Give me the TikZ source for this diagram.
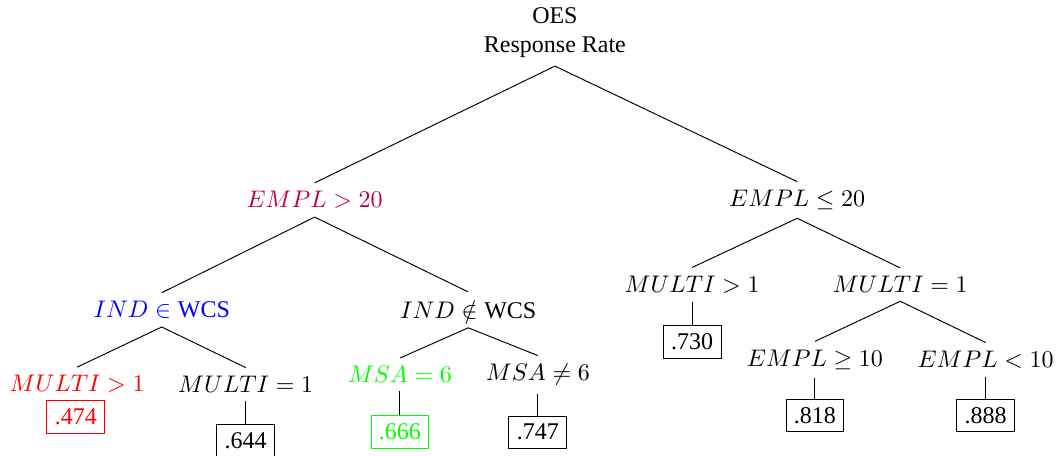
\documentclass[tikz,border=0pt]{standalone}
\usepackage[no-math]{fontspec}
\setmainfont{Liberation Serif}
\usepackage{amsmath,amssymb}
\usepackage{tikz}
\usepackage{xcolor}
\usetikzlibrary{positioning}

\begin{document}
\begin{tikzpicture}[
    leaf/.style={draw, rectangle},
    split/.style={inner sep=3.33pt},
    branch/.style={draw, line width=0.4pt}
]
    \useasboundingbox (0,0) rectangle (15.53,6.68);

    % Root
    \node[align=center] (root) at (8.13,6.20) {OES\\Response Rate};

    % Left subtree
    \node[split, purple] (bigA) at (4.61,3.75) {$EMPL > 20$};
    \node[split, blue] (indin) at (2.37,2.14) {$IND \in \mbox{WCS}$};
    \node[split] (indout) at (6.86,2.14) {$IND \notin \mbox{WCS}$};

    \node[split, red] (multiA) at (1.13,1.05) {$MULTI > 1$};
    \node[split] (singleA) at (3.60,1.05) {$MULTI = 1$};
    \node[leaf, red] (rA) at (1.11,0.57) {.474};
    \node[leaf] (rB) at (3.60,0.23) {.644};

    \node[split, green] (msain) at (5.86,1.19) {$MSA = 6$};
    \node[split] (msaout) at (7.88,1.19) {$MSA \neq 6$};
    \node[leaf, green] (rC) at (5.86,0.35) {.666};
    \node[leaf] (rD) at (7.88,0.35) {.747};

    % Right subtree
    \node[split] (smallA) at (11.68,3.75) {$EMPL \leq 20$};
    \node[split] (multiB) at (10.14,2.51) {$MULTI > 1$};
    \node[split] (singleB) at (13.19,2.51) {$MULTI = 1$};
    \node[leaf] (rE) at (10.14,1.67) {.730};

    \node[split] (midA) at (11.94,1.41) {$EMPL \geq 10$};
    \node[split] (tinyA) at (14.44,1.41) {$EMPL < 10$};
    \node[leaf] (rF) at (11.94,0.59) {.818};
    \node[leaf] (rG) at (14.44,0.59) {.888};

    % Branches
    \draw[branch] (root.south) -- (bigA.north);
    \draw[branch] (root.south) -- (smallA.north);
    \draw[branch] (bigA.south) -- (indin.north);
    \draw[branch] (bigA.south) -- (indout.north);
    \draw[branch] (indin.south) -- (multiA.north);
    \draw[branch] (indin.south) -- (singleA.north);
    \draw[branch] (singleA.south) -- (rB.north);
    \draw[branch] (indout.south) -- (msain.north);
    \draw[branch] (indout.south) -- (msaout.north);
    \draw[branch] (msain.south) -- (rC.north);
    \draw[branch] (msaout.south) -- (rD.north);

    \draw[branch] (smallA.south) -- (multiB.north);
    \draw[branch] (smallA.south) -- (singleB.north);
    \draw[branch] (multiB.south) -- (rE.north);
    \draw[branch] (singleB.south) -- (midA.north);
    \draw[branch] (singleB.south) -- (tinyA.north);
    \draw[branch] (midA.south) -- (rF.north);
    \draw[branch] (tinyA.south) -- (rG.north);

\end{tikzpicture}
\end{document}
